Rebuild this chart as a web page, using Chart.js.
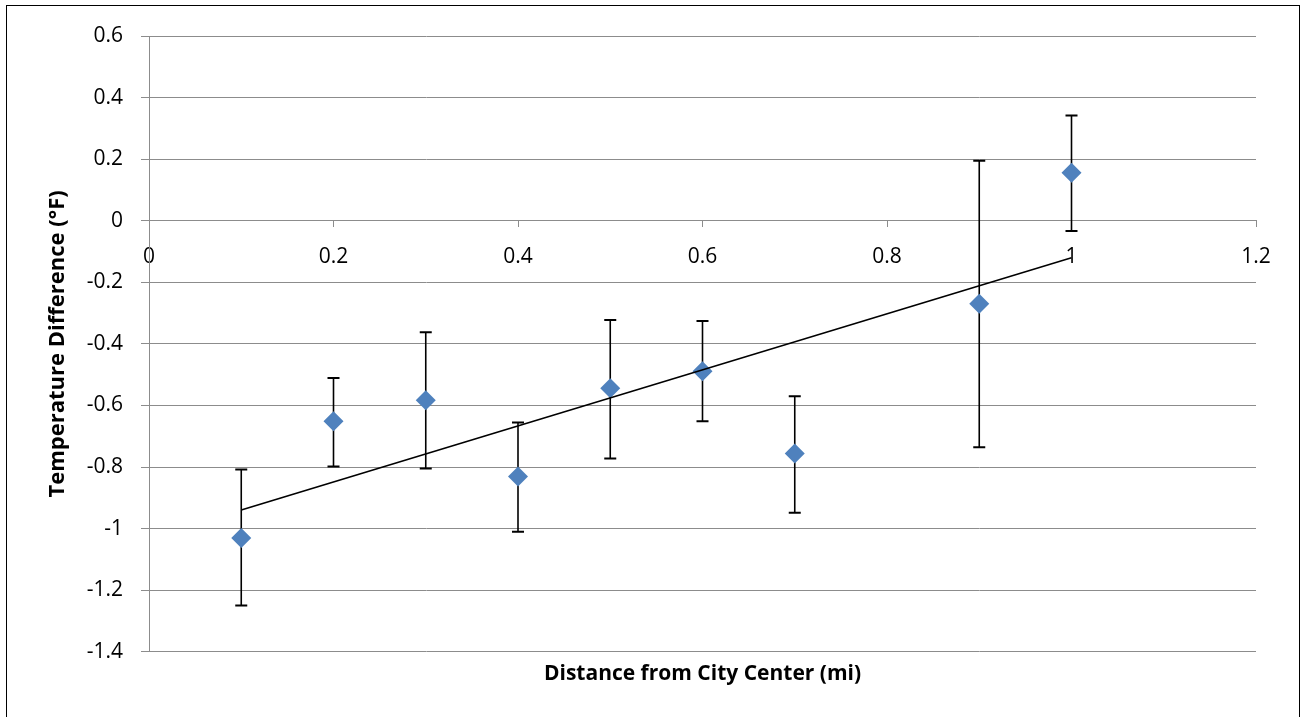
<!DOCTYPE html>
<html>
<head>
<meta charset="utf-8">
<title>Temperature Difference vs Distance</title>
<script src="https://cdn.jsdelivr.net/npm/chart.js@4"></script>
<style>
  body { margin: 0; background: #fff; }
  canvas { display: block; }
</style>
</head>
<body>
<canvas id="chart" width="1304" height="717"></canvas>
<script>
// distance from city center (mi)
const distances = [0.1, 0.2, 0.3, 0.4, 0.5, 0.6, 0.7, 0.9, 1.0];
// mean temperature difference (°F)
const tempDiff = [-1.03, -0.651, -0.583, -0.831, -0.544, -0.489, -0.756, -0.270, 0.156];
// error bar ends
const errUpper = [-0.808, -0.511, -0.362, -0.655, -0.322, -0.326, -0.570, 0.195, 0.342];
const errLower = [-1.25, -0.798, -0.805, -1.01, -0.772, -0.651, -0.948, -0.736, -0.033];

// linear trendline (least squares) through the points
const n = distances.length;
const mx = distances.reduce((a, b) => a + b, 0) / n;
const my = tempDiff.reduce((a, b) => a + b, 0) / n;
let sxy = 0, sxx = 0;
for (let i = 0; i < n; i++) {
    sxy += (distances[i] - mx) * (tempDiff[i] - my);
    sxx += (distances[i] - mx) * (distances[i] - mx);
}
const slope = sxy / sxx;
const intercept = my - slope * mx;
const xMin = Math.min(...distances), xMax = Math.max(...distances);
const trend = [
    { x: xMin, y: intercept + slope * xMin },
    { x: xMax, y: intercept + slope * xMax }
];

const gridColor = '#8c8c8c';
const fmt = v => String(parseFloat(v.toFixed(1)));

// error bars go under the markers
const errorBars = {
    id: 'errorBars',
    beforeDatasetsDraw(chart) {
        const { ctx, scales: { x, y } } = chart;
        ctx.save();
        ctx.strokeStyle = '#000';
        for (let i = 0; i < distances.length; i++) {
            const px = x.getPixelForValue(distances[i]);
            const top = y.getPixelForValue(errUpper[i]);
            const bot = y.getPixelForValue(errLower[i]);
            ctx.lineWidth = 1.6;
            ctx.beginPath();
            ctx.moveTo(px, top);
            ctx.lineTo(px, bot);
            ctx.stroke();
            ctx.lineWidth = 2;
            ctx.beginPath();
            ctx.moveTo(px - 6, top);
            ctx.lineTo(px + 6, top);
            ctx.moveTo(px - 6, bot);
            ctx.lineTo(px + 6, bot);
            ctx.stroke();
        }
        ctx.restore();
    }
};

const outerBorder = {
    id: 'outerBorder',
    afterDraw(chart) {
        const ctx = chart.ctx;
        ctx.save();
        ctx.strokeStyle = '#000';
        ctx.lineWidth = 1;
        ctx.strokeRect(6.5, 5.5, 1293, 720);
        ctx.restore();
    }
};

new Chart(document.getElementById('chart').getContext('2d'), {
    type: 'scatter',
    data: {
        datasets: [
            {
                type: 'line',
                label: 'Linear trend',
                data: trend,
                borderColor: '#000',
                borderWidth: 1.6,
                pointRadius: 0,
                fill: false,
                tension: 0
            },
            {
                label: 'Temperature Difference',
                data: distances.map((d, i) => ({ x: d, y: tempDiff[i] })),
                pointStyle: 'rectRot',
                pointRadius: 10,
                pointBorderWidth: 0,
                backgroundColor: '#4f81bd',
                borderColor: '#4f81bd'
            }
        ]
    },
    options: {
        responsive: false,
        animation: false,
        events: [],
        layout: {
            padding: { left: 40, top: 36, right: 48, bottom: 26 }
        },
        scales: {
            x: {
                type: 'linear',
                position: { y: 0 },
                min: 0,
                max: 1.2,
                afterFit(scale) { scale.height = 8; },
                ticks: {
                    stepSize: 0.2,
                    color: '#000',
                    padding: 18,
                    callback: fmt,
                    font: { family: 'Open Sans', size: 21 }
                },
                grid: {
                    drawOnChartArea: false,
                    drawTicks: true,
                    tickLength: 6,
                    color: gridColor
                },
                border: { color: gridColor, width: 1 }
            },
            y: {
                min: -1.4,
                max: 0.6,
                afterFit(scale) { scale.width = 109; },
                ticks: {
                    stepSize: 0.2,
                    color: '#000',
                    padding: 18,
                    callback: fmt,
                    font: { family: 'Open Sans', size: 21 }
                },
                grid: {
                    color: gridColor,
                    tickLength: 8
                },
                border: { color: gridColor, width: 1 },
                title: {
                    display: true,
                    text: 'Temperature Difference (°F)',
                    color: '#000',
                    font: { family: 'Open Sans', size: 22, weight: 'bold' },
                    padding: { top: 5, bottom: 0 }
                }
            }
        },
        plugins: {
            legend: { display: false },
            tooltip: { enabled: false },
            title: {
                display: true,
                position: 'bottom',
                fullSize: false,
                text: 'Distance from City Center (mi)',
                color: '#000',
                font: { family: 'Open Sans', size: 21, weight: 'bold' },
                padding: { top: 10, bottom: 4 }
            }
        }
    },
    plugins: [errorBars, outerBorder]
});
</script>
</body>
</html>
